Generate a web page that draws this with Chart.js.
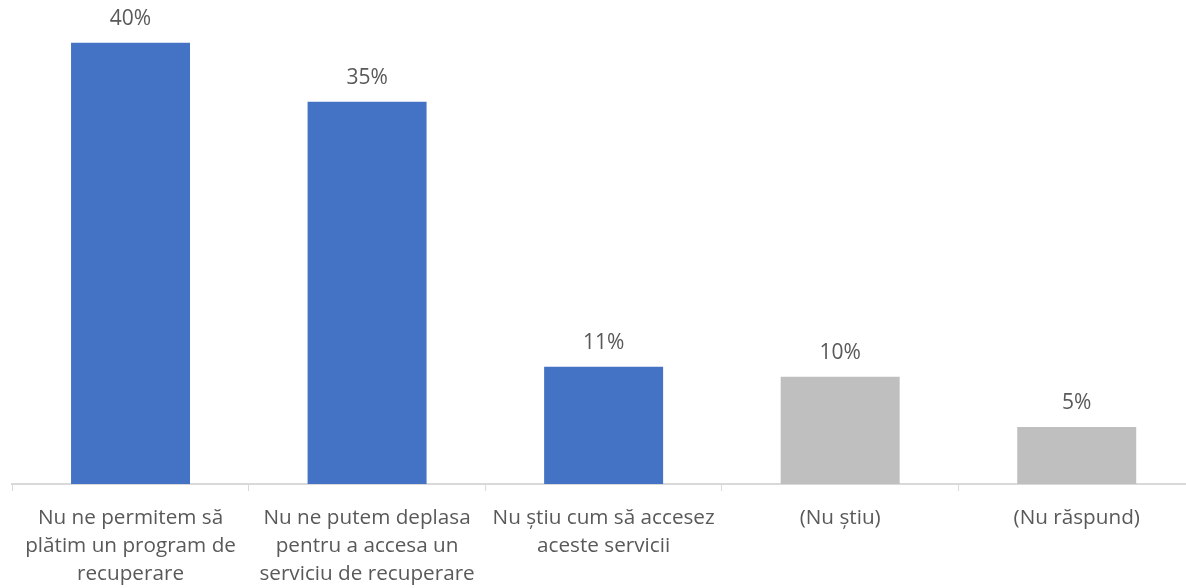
<!DOCTYPE html>
<html>
<head>
<meta charset="utf-8">
<script src="https://cdn.jsdelivr.net/npm/chart.js@4"></script>
<style>
  html, body { margin: 0; padding: 0; background: #ffffff; overflow: hidden; }
  #wrap { position: relative; width: 1195px; height: 588px; }
</style>
</head>
<body>
<div id="wrap"><canvas id="c"></canvas></div>
<script>
const categories = [
  ["Nu ne permitem să", "plătim un program de", "recuperare"],
  ["Nu ne putem deplasa", "pentru a accesa un", "serviciu de recuperare"],
  ["Nu știu cum să accesez", "aceste servicii"],
  ["(Nu știu)"],
  ["(Nu răspund)"]
];
const values = [40.3, 34.9, 10.7, 9.8, 5.2];
const barColors = ["#4472C4", "#4472C4", "#4472C4", "#BFBFBF", "#BFBFBF"];

const FONT = "'Open Sans', 'Liberation Sans', sans-serif";
const TEXT = "#595959";

const valueLabels = {
  id: 'valueLabels',
  afterDatasetsDraw(chart) {
    const ctx = chart.ctx;
    const meta = chart.getDatasetMeta(0);
    ctx.save();
    ctx.font = "21px " + FONT;
    ctx.fillStyle = TEXT;
    ctx.textAlign = 'center';
    ctx.textBaseline = 'alphabetic';
    meta.data.forEach((bar, i) => {
      ctx.fillText(Math.round(values[i]) + '%', bar.x, bar.y - 18);
    });
    ctx.restore();
  }
};

new Chart(document.getElementById('c'), {
  type: 'bar',
  data: {
    labels: categories,
    datasets: [{
      data: values,
      backgroundColor: barColors,
      borderWidth: 0,
      categoryPercentage: 1,
      barPercentage: 0.503
    }]
  },
  options: {
    responsive: true,
    maintainAspectRatio: false,
    animation: false,
    layout: { padding: { left: 12.25, right: 0, top: 0, bottom: 0 } },
    plugins: { legend: { display: false }, tooltip: { enabled: false } },
    scales: {
      y: {
        display: false,
        min: 0,
        max: 44.2
      },
      x: {
        offset: true,
        border: { display: true, color: '#D9D9D9', width: 2 },
        grid: {
          display: true,
          offset: true,
          drawOnChartArea: false,
          drawTicks: true,
          tickLength: 7,
          color: '#D9D9D9',
          lineWidth: 1
        },
        ticks: {
          color: TEXT,
          font: { family: FONT, size: 20.7, lineHeight: 1.36 },
          padding: 13,
          maxRotation: 0,
          minRotation: 0,
          autoSkip: false
        },
        afterFit(scale) { scale.height = 104; }
      }
    }
  },
  plugins: [valueLabels]
});
</script>
</body>
</html>
